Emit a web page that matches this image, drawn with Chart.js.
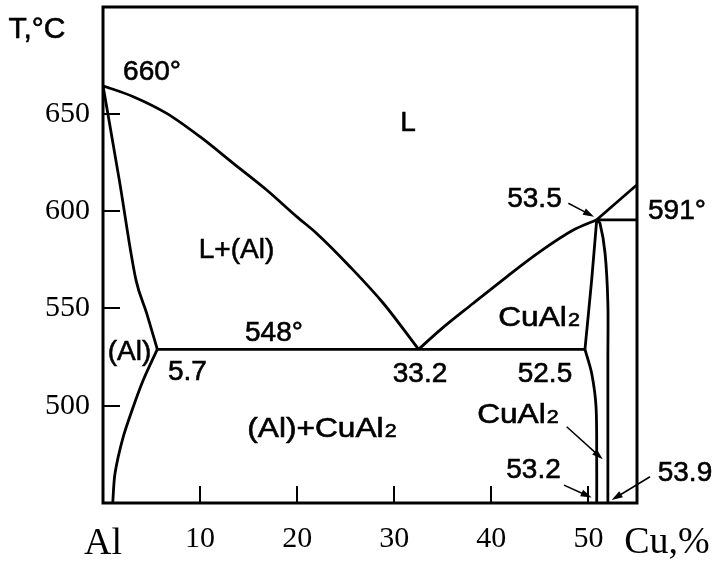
<!DOCTYPE html>
<html>
<head>
<meta charset="utf-8">
<script src="https://cdn.jsdelivr.net/npm/chart.js@4.4.1/dist/chart.umd.min.js"></script>
<style>
  html, body { margin: 0; padding: 0; background: #fff; }
  #wrap { width: 715px; height: 564px; }
</style>
</head>
<body>
<div id="wrap"><canvas id="phaseChart" width="715" height="564"></canvas></div>
<script>
// Axis ticks (Cu wt.% and temperature)
const xTicks = [0, 10, 20, 30, 40, 50];
const yTicks = [500, 550, 600, 650];

// Phase boundaries as [Cu %, T °C] pairs
const liquidusAl = [[0, 664.5], [3.12, 658.9], [6.56, 650.3], [9.99, 638.3], [13.42, 624.6], [16.86, 610.9],
    [19.95, 597.2], [22.01, 588.6], [25.44, 571.5], [28.87, 552.7], [32.5, 529.0]];
const liquidusCu = [[32.5, 529.0], [34.71, 538.9], [38.14, 552.7], [41.58, 566.3], [45.01, 579.2],
    [48.44, 590.3], [50.85, 595.6]];
const liquidusTop = [[50.85, 595.6], [54.97, 613.5]];
const solidusAl = [[0, 664.5], [1.68, 616.0], [3.4, 564.6], [4.5, 547.5], [5.59, 529.0]];
const solvusAl = [[5.59, 529.0], [4.15, 513.2], [3.12, 499.5], [2.09, 484.1], [1.24, 465.3], [1.0, 450]];
const eutectic = [[5.59, 529.0], [49.64, 529.0]];
const peritectic = [[50.85, 595.6], [55, 595.6]];
const cuAl2Left = [[50.85, 595.6], [50.33, 564.6], [49.64, 529.0]];
const cuAl2LeftLow = [[49.64, 529.0], [50.33, 516.7], [50.78, 499.5], [50.85, 470.4], [50.85, 450]];
const cuAl2Right = [[50.85, 595.6], [51.19, 593.8], [51.71, 578.4], [52.0, 552.7], [52.0, 524.5], [52.0, 450]];

// Labels inside the diagram: text and where it sits (data units)
const noteText = ['660°', 'L', '53.5', '591°', 'L+(Al)', '(Al)', '548°', '5.7',
    '(Al)+CuAl2', 'CuAl2', '33.2', '52.5', 'CuAl2', '53.2', '53.9'];
const noteX = [5.05, 31.41, 44.44, 59.12, 13.75, 2.73, 17.61, 8.70, 22.55, 44.91, 32.65, 45.52, 42.74, 44.34, 59.94];
const noteY = [672.6, 646.5, 607.1, 600.9, 581.3, 528.6, 538.4, 518.4, 489.1, 546.1, 517.3, 517.3, 496.5, 468.2, 466.4];

// Pointer arrows: [tailX, tailY, headX, headY]
const arrows = [
    [47.93, 604.1, 50.57, 597.2],
    [47.76, 489.2, 51.47, 472.5],
    [47.48, 459.2, 50.33, 452.8],
    [56.34, 463.5, 52.39, 451.5]
];

const SANS = "'Liberation Sans', Arial, Helvetica, sans-serif";
const SERIF = "'Liberation Serif', 'Times New Roman', serif";

function toPoints(pairs) {
    return pairs.map(p => ({ x: p[0], y: p[1] }));
}

// mode: 'mono' = smooth along x, a number = bezier tension
function curve(pairs, mode) {
    const ds = {
        data: toPoints(pairs),
        showLine: true,
        borderColor: '#000',
        borderWidth: 2.8,
        pointRadius: 0,
        fill: false
    };
    if (mode === 'mono') {
        ds.cubicInterpolationMode = 'monotone';
    } else {
        ds.tension = mode || 0;
    }
    return ds;
}

function inkText(ctx, s, x, y) {
    ctx.fillText(s, x, y);
    ctx.strokeText(s, x, y);
}

// Draws text; CuAl2 gets a smaller trailing "2" and slightly wider letters
function drawNote(ctx, text, cx, cy) {
    const big = '28px ' + SANS;
    const small = '19px ' + SANS;
    let main = text, tail = '', stretch = 1;
    if (text.endsWith('Al2')) {
        main = text.slice(0, -1);
        tail = '2';
        stretch = 1.13;
    }
    ctx.font = big;
    const w1 = ctx.measureText(main).width;
    ctx.font = small;
    const w2 = tail ? ctx.measureText(tail).width + 1 : 0;
    ctx.save();
    ctx.translate(cx, cy + 10);
    ctx.scale(stretch, 1);
    const left = -(w1 + w2) / 2;
    ctx.textAlign = 'left';
    ctx.textBaseline = 'alphabetic';
    ctx.lineWidth = 0.6;
    ctx.font = big;
    inkText(ctx, main, left, 0);
    if (tail) {
        ctx.font = small;
        inkText(ctx, tail, left + w1 + 1, 0);
    }
    ctx.restore();
}

function drawArrow(ctx, x0, y0, x1, y1) {
    const ang = Math.atan2(y1 - y0, x1 - x0);
    const len = 11, half = 3.5;
    ctx.lineWidth = 1.5;
    ctx.beginPath();
    ctx.moveTo(x0, y0);
    ctx.lineTo(x1 - Math.cos(ang) * len * 0.8, y1 - Math.sin(ang) * len * 0.8);
    ctx.stroke();
    ctx.beginPath();
    ctx.moveTo(x1, y1);
    ctx.lineTo(x1 - Math.cos(ang) * len - Math.sin(ang) * half, y1 - Math.sin(ang) * len + Math.cos(ang) * half);
    ctx.lineTo(x1 - Math.cos(ang) * len + Math.sin(ang) * half, y1 - Math.sin(ang) * len - Math.cos(ang) * half);
    ctx.closePath();
    ctx.fill();
}

const frameAndNotes = {
    id: 'frameAndNotes',
    afterDatasetsDraw(chart) {
        const { ctx, chartArea: a, scales } = chart;
        const sx = scales.x, sy = scales.y;
        ctx.save();
        ctx.strokeStyle = '#000';
        ctx.fillStyle = '#000';

        // frame round the plot
        ctx.lineWidth = 3;
        ctx.strokeRect(a.left, a.top, a.right - a.left, a.bottom - a.top);

        arrows.forEach(ar => {
            drawArrow(ctx, sx.getPixelForValue(ar[0]), sy.getPixelForValue(ar[1]),
                sx.getPixelForValue(ar[2]), sy.getPixelForValue(ar[3]));
        });

        noteText.forEach((t, i) => {
            drawNote(ctx, t, sx.getPixelForValue(noteX[i]), sy.getPixelForValue(noteY[i]));
        });

        // axis titles
        ctx.textAlign = 'center';
        ctx.textBaseline = 'middle';
        ctx.lineWidth = 0.6;
        ctx.font = '30px ' + SANS;
        inkText(ctx, 'T,°C', a.left - 66, a.top + 23);
        ctx.font = '38px ' + SERIF;
        ctx.fillText('Cu,%', a.right + 30, a.bottom + 40);
        ctx.restore();
    }
};

const ctx = document.getElementById('phaseChart').getContext('2d');

new Chart(ctx, {
    type: 'scatter',
    data: {
        datasets: [
            curve(liquidusAl, 'mono'),
            curve(liquidusCu, 'mono'),
            curve(liquidusTop, 0),
            curve(solidusAl, 'mono'),
            curve(solvusAl, 0.3),
            curve(eutectic, 0),
            curve(peritectic, 0),
            curve(cuAl2Left, 0.2),
            curve(cuAl2LeftLow, 0.3),
            curve(cuAl2Right, 0.3)
        ]
    },
    options: {
        responsive: false,
        animation: false,
        devicePixelRatio: 1,
        layout: { padding: { left: 0, right: 78, top: 7, bottom: 0 } },
        plugins: {
            legend: { display: false },
            tooltip: { enabled: false }
        },
        scales: {
            x: {
                type: 'linear',
                min: 0,
                max: 55,
                afterBuildTicks: s => { s.ticks = xTicks.map(v => ({ value: v })); },
                afterFit: s => { s.height = 61; s.paddingLeft = 0; s.paddingRight = 0; },
                border: { display: false },
                grid: { drawOnChartArea: false, drawTicks: true, tickLength: -17, color: '#000', lineWidth: 2 },
                ticks: {
                    color: '#000',
                    padding: 35,
                    maxRotation: 0,
                    autoSkip: false,
                    font: c => (c.tick && c.tick.value === 0) ? { family: SERIF, size: 38 } : { family: SERIF, size: 30 },
                    callback: v => v === 0 ? 'Al' : String(v)
                }
            },
            y: {
                type: 'linear',
                min: 450,
                max: 705,
                afterBuildTicks: s => { s.ticks = yTicks.map(v => ({ value: v })); },
                afterFit: s => { s.width = 103; s.paddingTop = 0; s.paddingBottom = 0; },
                border: { display: false },
                grid: { drawOnChartArea: false, drawTicks: true, tickLength: -17, color: '#000', lineWidth: 2 },
                ticks: {
                    color: '#000',
                    padding: 30,
                    font: { family: SERIF, size: 30 },
                    callback: v => String(v)
                }
            }
        }
    },
    plugins: [frameAndNotes]
});
</script>
</body>
</html>
